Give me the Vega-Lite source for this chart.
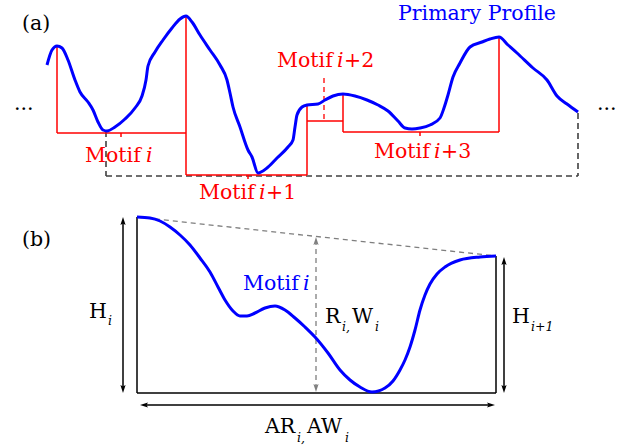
{
  "$schema": "https://vega.github.io/schema/vega-lite/v6.json",
  "width": 621,
  "height": 447,
  "padding": 0,
  "autosize": "none",
  "background": "white",
  "config": {"view": {"stroke": null}, "font": "DejaVu Serif"},
  "datasets": {
    "segs": [
      {"role": "baseline", "dash": true, "x": 106, "y": 131, "x2": 106, "y2": 176},
      {"role": "baseline", "dash": true, "x": 106, "y": 176, "x2": 578, "y2": 176},
      {"role": "baseline", "dash": true, "x": 578, "y": 113, "x2": 578, "y2": 176},
      {"role": "guide", "dash": true, "x": 137, "y": 217, "x2": 496, "y2": 256},
      {"role": "guide", "dash": true, "x": 316, "y": 240, "x2": 316, "y2": 390},
      {"role": "motif", "dash": true, "x": 324, "y": 78, "x2": 324, "y2": 121},
      {"role": "motif", "dash": false, "x": 57, "y": 46, "x2": 57, "y2": 133},
      {"role": "motif", "dash": false, "x": 57, "y": 133, "x2": 186, "y2": 133},
      {"role": "motif", "dash": false, "x": 186, "y": 16, "x2": 186, "y2": 175},
      {"role": "motif", "dash": false, "x": 121, "y": 133, "x2": 121, "y2": 137},
      {"role": "motif", "dash": false, "x": 186, "y": 175, "x2": 307, "y2": 175},
      {"role": "motif", "dash": false, "x": 307, "y": 105, "x2": 307, "y2": 175},
      {"role": "motif", "dash": false, "x": 248, "y": 175, "x2": 248, "y2": 179},
      {"role": "motif", "dash": false, "x": 307, "y": 121, "x2": 343, "y2": 121},
      {"role": "motif", "dash": false, "x": 343, "y": 94, "x2": 343, "y2": 132},
      {"role": "motif", "dash": false, "x": 343, "y": 132, "x2": 499, "y2": 132},
      {"role": "motif", "dash": false, "x": 499, "y": 37, "x2": 499, "y2": 132},
      {"role": "motif", "dash": false, "x": 420, "y": 132, "x2": 420, "y2": 136},
      {"role": "frame", "dash": false, "x": 137, "y": 217, "x2": 137, "y2": 393},
      {"role": "frame", "dash": false, "x": 137, "y": 393, "x2": 496, "y2": 393},
      {"role": "frame", "dash": false, "x": 496, "y": 256, "x2": 496, "y2": 393},
      {"role": "frame", "dash": false, "x": 123, "y": 222, "x2": 123, "y2": 388},
      {"role": "frame", "dash": false, "x": 504, "y": 262, "x2": 504, "y2": 388},
      {"role": "frame", "dash": false, "x": 145, "y": 405, "x2": 490, "y2": 405}
    ],
    "arrows": [
      {"role": "frame", "dir": 0, "x": 123, "y": 217},
      {"role": "frame", "dir": 180, "x": 123, "y": 393},
      {"role": "frame", "dir": 0, "x": 504, "y": 257},
      {"role": "frame", "dir": 180, "x": 504, "y": 393},
      {"role": "frame", "dir": 270, "x": 140, "y": 405},
      {"role": "frame", "dir": 90, "x": 495, "y": 405},
      {"role": "guide", "dir": 0, "x": 316, "y": 237},
      {"role": "guide", "dir": 180, "x": 316, "y": 392}
    ],
    "profileA": [
      {"x": 47, "y": 65}, {"x": 52, "y": 50}, {"x": 57, "y": 46}, {"x": 62, "y": 48},
      {"x": 68, "y": 60}, {"x": 75, "y": 80}, {"x": 80, "y": 92}, {"x": 88, "y": 102},
      {"x": 93, "y": 110}, {"x": 98, "y": 122}, {"x": 103, "y": 130}, {"x": 107, "y": 131},
      {"x": 115, "y": 127}, {"x": 125, "y": 119}, {"x": 135, "y": 108}, {"x": 142, "y": 96},
      {"x": 146, "y": 80}, {"x": 148, "y": 66}, {"x": 155, "y": 52}, {"x": 163, "y": 40},
      {"x": 172, "y": 28}, {"x": 180, "y": 19}, {"x": 186, "y": 16}, {"x": 192, "y": 22},
      {"x": 200, "y": 35}, {"x": 210, "y": 50}, {"x": 220, "y": 65}, {"x": 227, "y": 80},
      {"x": 230, "y": 93}, {"x": 233, "y": 107}, {"x": 240, "y": 127}, {"x": 248, "y": 150},
      {"x": 252, "y": 157}, {"x": 258, "y": 173}, {"x": 267, "y": 168}, {"x": 277, "y": 158},
      {"x": 288, "y": 147}, {"x": 293, "y": 140}, {"x": 295, "y": 127}, {"x": 297, "y": 115},
      {"x": 302, "y": 107}, {"x": 307, "y": 105}, {"x": 318, "y": 104}, {"x": 325, "y": 100},
      {"x": 333, "y": 96}, {"x": 343, "y": 94}, {"x": 355, "y": 96}, {"x": 367, "y": 100},
      {"x": 378, "y": 105}, {"x": 388, "y": 111}, {"x": 398, "y": 121}, {"x": 405, "y": 128},
      {"x": 412, "y": 129}, {"x": 420, "y": 128}, {"x": 430, "y": 125}, {"x": 440, "y": 118},
      {"x": 444, "y": 108}, {"x": 448, "y": 95}, {"x": 453, "y": 77}, {"x": 460, "y": 63},
      {"x": 470, "y": 47}, {"x": 482, "y": 42}, {"x": 490, "y": 39}, {"x": 499, "y": 37},
      {"x": 508, "y": 45}, {"x": 517, "y": 53}, {"x": 533, "y": 68}, {"x": 547, "y": 80},
      {"x": 557, "y": 96}, {"x": 567, "y": 104}, {"x": 578, "y": 112}
    ],
    "profileB": [
      {"x": 137, "y": 217}, {"x": 150, "y": 218}, {"x": 160, "y": 221}, {"x": 170, "y": 227},
      {"x": 180, "y": 235}, {"x": 190, "y": 245}, {"x": 200, "y": 258}, {"x": 210, "y": 272},
      {"x": 218, "y": 287}, {"x": 225, "y": 300}, {"x": 233, "y": 311}, {"x": 240, "y": 316},
      {"x": 247, "y": 316}, {"x": 255, "y": 313}, {"x": 265, "y": 308}, {"x": 275, "y": 306},
      {"x": 285, "y": 310}, {"x": 295, "y": 318}, {"x": 305, "y": 327}, {"x": 315, "y": 337},
      {"x": 328, "y": 353}, {"x": 340, "y": 370}, {"x": 350, "y": 380}, {"x": 360, "y": 387},
      {"x": 372, "y": 392}, {"x": 385, "y": 388}, {"x": 393, "y": 381}, {"x": 400, "y": 370},
      {"x": 405, "y": 360}, {"x": 410, "y": 347}, {"x": 415, "y": 330}, {"x": 420, "y": 310},
      {"x": 425, "y": 295}, {"x": 430, "y": 284}, {"x": 437, "y": 274}, {"x": 445, "y": 267},
      {"x": 460, "y": 260}, {"x": 480, "y": 257}, {"x": 496, "y": 256}
    ],
    "labels": [
      {"role": "frame", "style": "roman", "text": "(a)", "x": 22, "y": 30},
      {"role": "frame", "style": "roman", "text": "...", "x": 14, "y": 110},
      {"role": "frame", "style": "roman", "text": "...", "x": 597, "y": 110},
      {"role": "profile", "style": "roman", "text": "Primary Profile", "x": 398, "y": 20},
      {"role": "motif", "style": "roman", "text": "Motif", "x": 85, "y": 162},
      {"role": "motif", "style": "italic", "text": "i", "x": 146, "y": 162},
      {"role": "motif", "style": "roman", "text": "Motif", "x": 199, "y": 199},
      {"role": "motif", "style": "italic", "text": "i", "x": 259, "y": 199},
      {"role": "motif", "style": "roman", "text": "+1", "x": 266, "y": 199},
      {"role": "motif", "style": "roman", "text": "Motif", "x": 277, "y": 67},
      {"role": "motif", "style": "italic", "text": "i", "x": 337, "y": 67},
      {"role": "motif", "style": "roman", "text": "+2", "x": 344, "y": 67},
      {"role": "motif", "style": "roman", "text": "Motif", "x": 374, "y": 158},
      {"role": "motif", "style": "italic", "text": "i", "x": 434, "y": 158},
      {"role": "motif", "style": "roman", "text": "+3", "x": 441, "y": 158},
      {"role": "frame", "style": "roman", "text": "(b)", "x": 22, "y": 246},
      {"role": "frame", "style": "roman", "text": "H", "x": 89, "y": 318},
      {"role": "frame", "style": "sub", "text": "i", "x": 108, "y": 325},
      {"role": "profile", "style": "roman", "text": "Motif", "x": 243, "y": 290},
      {"role": "profile", "style": "italic", "text": "i", "x": 303, "y": 290},
      {"role": "frame", "style": "roman", "text": "R", "x": 325, "y": 323},
      {"role": "frame", "style": "sub", "text": "i,", "x": 342, "y": 331},
      {"role": "frame", "style": "roman", "text": "W", "x": 352, "y": 323},
      {"role": "frame", "style": "sub", "text": "i", "x": 375, "y": 331},
      {"role": "frame", "style": "roman", "text": "H", "x": 512, "y": 323},
      {"role": "frame", "style": "sub", "text": "i+1", "x": 531, "y": 331},
      {"role": "frame", "style": "roman", "text": "AR", "x": 265, "y": 433},
      {"role": "frame", "style": "sub", "text": "i,", "x": 297, "y": 442},
      {"role": "frame", "style": "roman", "text": "AW", "x": 307, "y": 433},
      {"role": "frame", "style": "sub", "text": "i", "x": 345, "y": 442}
    ]
  },
  "layer": [
    {
      "data": {"name": "segs"},
      "transform": [{"filter": "datum.dash && datum.role == 'baseline'"}],
      "mark": {"type": "rule", "strokeWidth": 1.6, "strokeDash": [6, 4]},
      "encoding": {
        "x": {"field": "x", "type": "quantitative", "scale": {"domain": [0, 621], "nice": false, "zero": false}, "axis": null},
        "y": {"field": "y", "type": "quantitative", "scale": {"domain": [0, 447], "nice": false, "zero": false, "reverse": true}, "axis": null},
        "x2": {"field": "x2"},
        "y2": {"field": "y2"},
        "color": {"field": "role", "type": "nominal", "scale": {"domain": ["motif", "frame", "guide", "profile", "baseline"], "range": ["#ff0000", "#000000", "#7f7f7f", "#0000ff", "#404040"]}, "legend": null}
      }
    },
    {
      "data": {"name": "segs"},
      "transform": [{"filter": "datum.dash && datum.role != 'baseline'"}],
      "mark": {"type": "rule", "strokeWidth": 1.3, "strokeDash": [5, 4]},
      "encoding": {
        "x": {"field": "x", "type": "quantitative", "scale": {"domain": [0, 621], "nice": false, "zero": false}, "axis": null},
        "y": {"field": "y", "type": "quantitative", "scale": {"domain": [0, 447], "nice": false, "zero": false, "reverse": true}, "axis": null},
        "x2": {"field": "x2"},
        "y2": {"field": "y2"},
        "color": {"field": "role", "type": "nominal", "scale": {"domain": ["motif", "frame", "guide", "profile", "baseline"], "range": ["#ff0000", "#000000", "#7f7f7f", "#0000ff", "#404040"]}, "legend": null}
      }
    },
    {
      "data": {"name": "segs"},
      "transform": [{"filter": "!datum.dash"}],
      "mark": {"type": "rule", "strokeWidth": 1.5},
      "encoding": {
        "x": {"field": "x", "type": "quantitative", "scale": {"domain": [0, 621], "nice": false, "zero": false}, "axis": null},
        "y": {"field": "y", "type": "quantitative", "scale": {"domain": [0, 447], "nice": false, "zero": false, "reverse": true}, "axis": null},
        "x2": {"field": "x2"},
        "y2": {"field": "y2"},
        "color": {"field": "role", "type": "nominal", "scale": {"domain": ["motif", "frame", "guide", "profile", "baseline"], "range": ["#ff0000", "#000000", "#7f7f7f", "#0000ff", "#404040"]}, "legend": null}
      }
    },
    {
      "data": {"name": "arrows"},
      "mark": {"type": "point", "filled": true, "opacity": 1, "shape": "M0,0L-0.65,2L0,1.6L0.65,2Z", "size": 64, "strokeWidth": 0},
      "encoding": {
        "x": {"field": "x", "type": "quantitative", "scale": {"domain": [0, 621], "nice": false, "zero": false}, "axis": null},
        "y": {"field": "y", "type": "quantitative", "scale": {"domain": [0, 447], "nice": false, "zero": false, "reverse": true}, "axis": null},
        "angle": {"field": "dir", "type": "quantitative", "scale": null},
        "color": {"field": "role", "type": "nominal", "scale": {"domain": ["motif", "frame", "guide", "profile", "baseline"], "range": ["#ff0000", "#000000", "#7f7f7f", "#0000ff", "#404040"]}, "legend": null}
      }
    },
    {
      "data": {"name": "profileA"},
      "mark": {"type": "line", "interpolate": "monotone", "color": "#0000ff", "strokeWidth": 3},
      "encoding": {
        "x": {"field": "x", "type": "quantitative", "scale": {"domain": [0, 621], "nice": false, "zero": false}, "axis": null},
        "y": {"field": "y", "type": "quantitative", "scale": {"domain": [0, 447], "nice": false, "zero": false, "reverse": true}, "axis": null},
        "order": {"field": "x", "type": "quantitative"}
      }
    },
    {
      "data": {"name": "profileB"},
      "mark": {"type": "line", "interpolate": "monotone", "color": "#0000ff", "strokeWidth": 3},
      "encoding": {
        "x": {"field": "x", "type": "quantitative", "scale": {"domain": [0, 621], "nice": false, "zero": false}, "axis": null},
        "y": {"field": "y", "type": "quantitative", "scale": {"domain": [0, 447], "nice": false, "zero": false, "reverse": true}, "axis": null},
        "order": {"field": "x", "type": "quantitative"}
      }
    },
    {
      "data": {"name": "labels"},
      "transform": [{"filter": "datum.style == 'roman'"}],
      "mark": {"type": "text", "font": "DejaVu Serif", "fontSize": 20.5, "align": "left", "baseline": "alphabetic"},
      "encoding": {
        "x": {"field": "x", "type": "quantitative", "scale": {"domain": [0, 621], "nice": false, "zero": false}, "axis": null},
        "y": {"field": "y", "type": "quantitative", "scale": {"domain": [0, 447], "nice": false, "zero": false, "reverse": true}, "axis": null},
        "text": {"field": "text"},
        "color": {"field": "role", "type": "nominal", "scale": {"domain": ["motif", "frame", "guide", "profile", "baseline"], "range": ["#ff0000", "#000000", "#7f7f7f", "#0000ff", "#404040"]}, "legend": null}
      }
    },
    {
      "data": {"name": "labels"},
      "transform": [{"filter": "datum.style == 'italic'"}],
      "mark": {"type": "text", "font": "DejaVu Serif", "fontSize": 20.5, "fontStyle": "italic", "align": "left", "baseline": "alphabetic"},
      "encoding": {
        "x": {"field": "x", "type": "quantitative", "scale": {"domain": [0, 621], "nice": false, "zero": false}, "axis": null},
        "y": {"field": "y", "type": "quantitative", "scale": {"domain": [0, 447], "nice": false, "zero": false, "reverse": true}, "axis": null},
        "text": {"field": "text"},
        "color": {"field": "role", "type": "nominal", "scale": {"domain": ["motif", "frame", "guide", "profile", "baseline"], "range": ["#ff0000", "#000000", "#7f7f7f", "#0000ff", "#404040"]}, "legend": null}
      }
    },
    {
      "data": {"name": "labels"},
      "transform": [{"filter": "datum.style == 'sub'"}],
      "mark": {"type": "text", "font": "DejaVu Serif", "fontSize": 12.5, "fontStyle": "italic", "align": "left", "baseline": "alphabetic"},
      "encoding": {
        "x": {"field": "x", "type": "quantitative", "scale": {"domain": [0, 621], "nice": false, "zero": false}, "axis": null},
        "y": {"field": "y", "type": "quantitative", "scale": {"domain": [0, 447], "nice": false, "zero": false, "reverse": true}, "axis": null},
        "text": {"field": "text"},
        "color": {"field": "role", "type": "nominal", "scale": {"domain": ["motif", "frame", "guide", "profile", "baseline"], "range": ["#ff0000", "#000000", "#7f7f7f", "#0000ff", "#404040"]}, "legend": null}
      }
    }
  ]
}
